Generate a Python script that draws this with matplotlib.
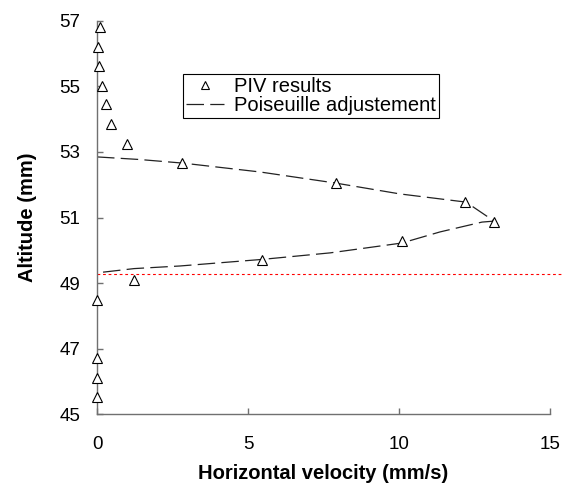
import matplotlib
matplotlib.use('Agg')
import matplotlib.pyplot as plt

plt.rcParams['font.family'] = ['Liberation Sans', 'DejaVu Sans']

# PIV measurements: horizontal velocity (mm/s) vs altitude (mm)
piv_velocity = [0.10, 0.04, 0.08, 0.15, 0.30, 0.45, 1.00, 2.83, 7.91, 12.19,
                13.16, 10.09, 5.46, 1.24, 0.0, 0.0, 0.0, 0.0]
piv_altitude = [56.83, 56.21, 55.63, 55.02, 54.46, 53.85, 53.24, 52.66, 52.05, 51.47,
                50.87, 50.28, 49.69, 49.09, 48.48, 46.70, 46.09, 45.53]

# Poiseuille adjustment curve
fit_velocity = [0.0, 1.42, 2.85, 5.40, 7.91, 10.03, 12.22, 13.15,
                12.75, 11.36, 10.09, 7.72, 5.46, 2.75, 1.23, 0.0]
fit_altitude = [52.85, 52.77, 52.66, 52.39, 52.05, 51.72, 51.47, 50.89,
                50.86, 50.56, 50.22, 49.92, 49.72, 49.52, 49.44, 49.31]

wall_altitude = 49.27

x_ticks = [0, 5, 10, 15]
y_ticks = [45, 47, 49, 51, 53, 55, 57]

fig = plt.figure(figsize=(5.62, 4.88), dpi=100)
ax = fig.add_axes([0.1726, 0.1516, 0.8060, 0.8054])

ax.plot(fit_velocity, fit_altitude, color='#222222', lw=0.9,
        linestyle=(0, (14, 5)), label='Poiseuille adjustement', zorder=2)
ax.plot(piv_velocity, piv_altitude, linestyle='none', marker='^', markersize=7,
        markerfacecolor='white', markeredgecolor='black', markeredgewidth=0.8,
        label='PIV results', zorder=3, clip_on=False)
ax.axhline(wall_altitude, xmin=0, xmax=1.025, color='red', lw=0.8,
           linestyle=(0, (2.5, 2.5)), clip_on=False, zorder=1)

ax.set_xlim(0, 15)
ax.set_ylim(45, 57)
ax.set_xticks(x_ticks)
ax.set_yticks(y_ticks)

for side in ['top', 'right']:
    ax.spines[side].set_visible(False)
for side in ['left', 'bottom']:
    ax.spines[side].set_color('#707070')
    ax.spines[side].set_linewidth(1.0)

ax.tick_params(axis='both', direction='in', length=4, width=1.0, color='#707070',
               labelsize=13.5)
ax.tick_params(axis='y', pad=12)
ax.tick_params(axis='x', pad=16)

ax.set_xlabel('Horizontal velocity (mm/s)', fontsize=14.5, fontweight='bold', labelpad=8)
ax.set_ylabel('Altitude (mm)', fontsize=14.5, fontweight='bold', labelpad=16)

handles, labels = ax.get_legend_handles_labels()
leg = ax.legend(handles[::-1], labels[::-1], loc='upper left',
                bbox_to_anchor=(0.19, 0.865), borderaxespad=0, fontsize=14.5,
                frameon=True, fancybox=False, edgecolor='black', framealpha=1,
                handlelength=1.9, handletextpad=0.5, borderpad=0.15,
                labelspacing=0.0, markerscale=0.85)
leg.get_frame().set_linewidth(0.8)

fig.savefig('out.png', dpi=100)
